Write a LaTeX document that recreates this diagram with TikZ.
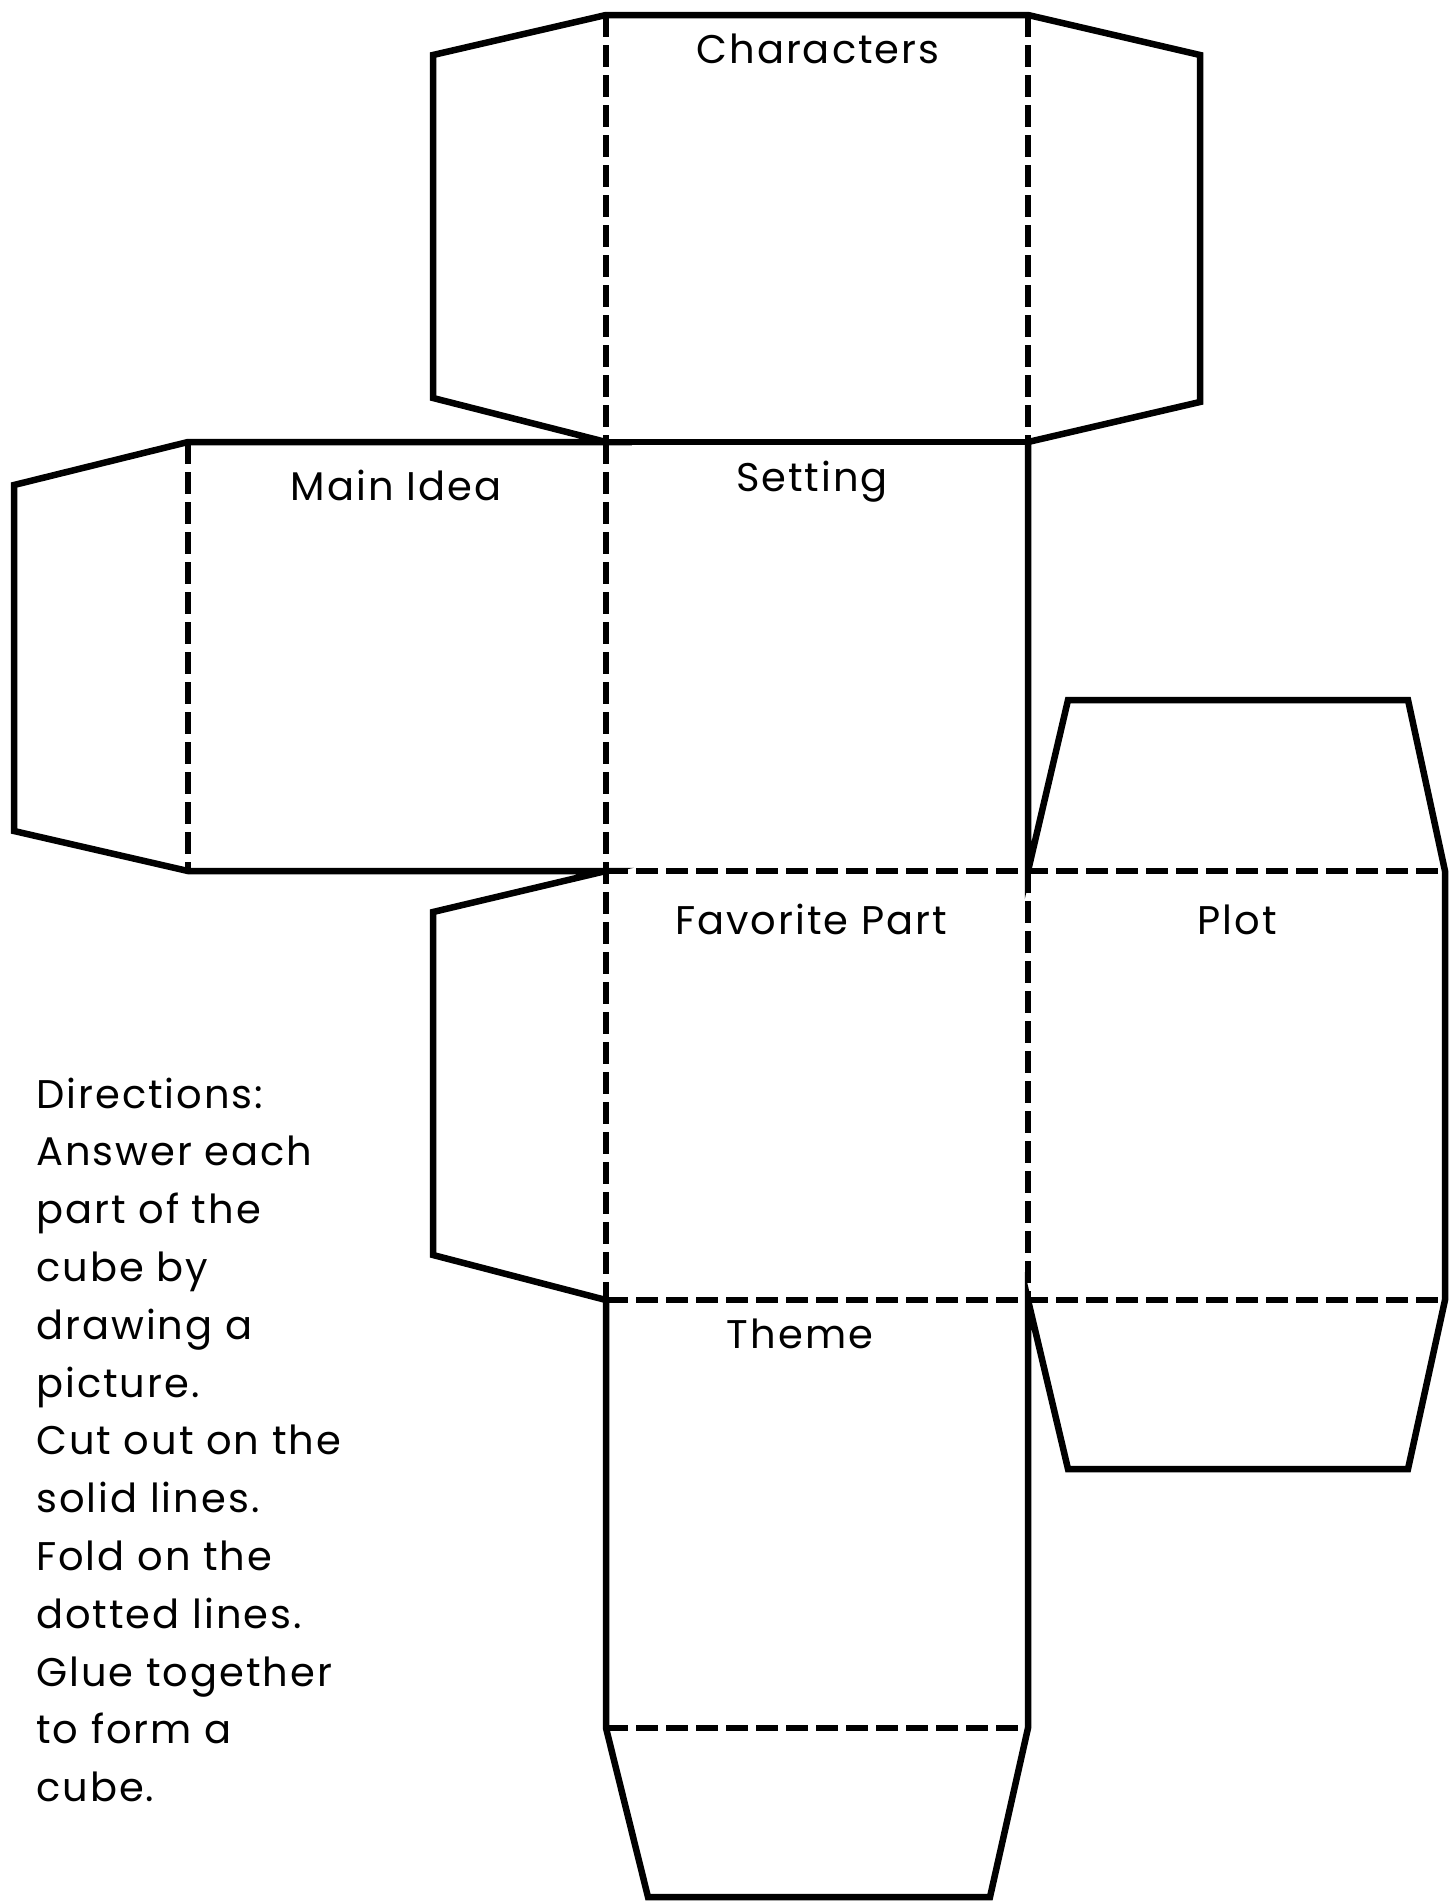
\documentclass[tikz,border=0pt]{standalone}
\usepackage{fontspec}
\setmainfont{Poppins}[LetterSpace=5]
\begin{document}
\begin{tikzpicture}[x=1pt,y=-1pt,
  cut/.style={line width=6.5pt,line join=miter,line cap=rect},
  fold/.style={line width=6.5pt,dash pattern=on 22pt off 8pt},
  lbl/.style={anchor=base,inner sep=0pt,font=\fontsize{40}{48}\selectfont},
  dir/.style={anchor=base west,inner sep=0pt,font=\fontsize{40}{48}\selectfont}]
\useasboundingbox (0,0) rectangle (1450,1901);
% fold lines
\draw[fold] (606,15) -- (606,442);
\draw[fold] (1028,15) -- (1028,442);
\draw[fold] (188,442) -- (188,871);
\draw[fold] (606,442) -- (606,1300);
\draw[fold] (606,871) -- (1445,871);
\draw[fold] (1028,871) -- (1028,1300);
\draw[fold] (606,1300) -- (1445,1300);
\draw[fold] (606,1728) -- (1028,1728);
\draw[cut] (606,442) -- (1028,442);
% outline (cut lines)
\draw[cut] (606,15) -- (1028,15) -- (1200,55) -- (1200,402) -- (1028,442)
  -- (1028,871) -- (1068,700) -- (1408,700) -- (1445,871) -- (1445,1300)
  -- (1408,1469) -- (1068,1469) -- (1028,1300) -- (1028,1728) -- (990,1897)
  -- (648,1897) -- (606,1728) -- (606,1300) -- (433,1255) -- (433,912)
  -- (606,871) -- (188,871) -- (14,831) -- (14,485) -- (188,442) -- (606,442)
  -- (433,398) -- (433,55) -- cycle;
% labels
\node[lbl] (chars) at (818,63) {Characters};
\node[lbl] (mainidea) at (396,500) {Main Idea};
\node[lbl] (setting) at (812,491) {Setting};
\node[lbl] (favpart) at (811,934) {Favorite Part};
\node[lbl] (plot) at (1237,934) {Plot};
\node[lbl] (theme) at (800,1348) {Theme};
% directions
\foreach \t [count=\i from 0] in {Directions:,Answer each,part of the,cube by,drawing a,picture.,Cut out on the,solid lines.,Fold on the,dotted lines.,Glue together,to form a,cube.}
  \node[dir] (dir\i) at (36,{1108+57.8*\i}) {\t};
\end{tikzpicture}
\end{document}
